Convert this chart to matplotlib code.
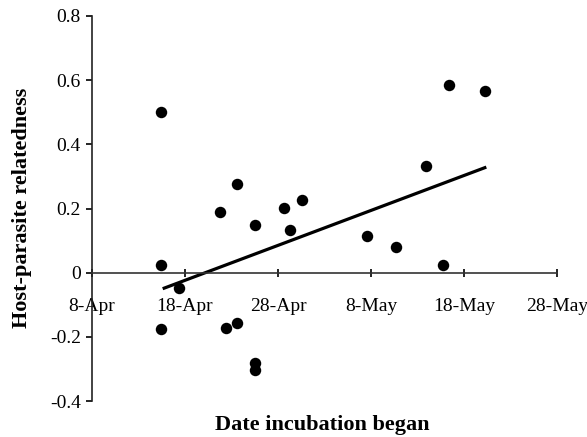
import numpy as np
import matplotlib
matplotlib.use('Agg')
import matplotlib.pyplot as plt

# days after 8-Apr, host-parasite relatedness
days = [7.4, 7.4, 7.4, 9.4, 13.8, 14.4, 15.6, 15.6, 17.5, 17.5, 17.5,
        20.6, 21.3, 22.6, 29.6, 32.7, 35.9, 37.7, 38.4, 42.3]
relatedness = [0.50, 0.025, -0.176, -0.048, 0.188, -0.173, 0.277, -0.157, 0.15, -0.283, -0.302,
               0.203, 0.133, 0.225, 0.114, 0.08, 0.332, 0.025, 0.585, 0.566]

# regression line (start and end values)
trend_days = [7.6, 42.4]
trend_vals = [-0.05, 0.329]

tick_days = [0, 10, 20, 30, 40, 50]
tick_labels = ['8-Apr', '18-Apr', '28-Apr', '8-May', '18-May', '28-May']
y_ticks = [-0.4, -0.2, 0, 0.2, 0.4, 0.6, 0.8]
y_labels = ['-0.4', '-0.2', '0', '0.2', '0.4', '0.6', '0.8']

plt.rcParams['font.family'] = ['Liberation Serif', 'DejaVu Serif']

fig = plt.figure(figsize=(5.87, 4.37), dpi=100)
ax = fig.add_axes([92 / 587, 1 - 401 / 437, (557 - 92) / 587, (401 - 16) / 437])

ax.scatter(days, relatedness, s=68, color='black', zorder=3, linewidths=0)
ax.plot(trend_days, trend_vals, color='black', lw=2.3, solid_capstyle='butt', zorder=2)

ax.set_xlim(0, 50)
ax.set_ylim(-0.4, 0.8)

ax.spines['top'].set_visible(False)
ax.spines['right'].set_visible(False)
ax.spines['bottom'].set_position(('data', 0))
ax.spines['left'].set_linewidth(1.2)
ax.spines['bottom'].set_linewidth(1.2)
ax.spines['left'].set_color('#222222')
ax.spines['bottom'].set_color('#333333')

ax.set_xticks(tick_days)
ax.set_xticklabels(tick_labels)
ax.set_yticks(y_ticks)
ax.set_yticklabels(y_labels)
ax.tick_params(axis='x', direction='inout', length=6, width=1.2, pad=15, labelsize=14)
ax.tick_params(axis='y', direction='out', length=4, width=1.2, pad=4, labelsize=14)

fig.text(322 / 587, 1 - 425 / 437, 'Date incubation began', ha='center', va='center',
         fontsize=16, fontweight='bold')
fig.text(22 / 587, 1 - 208 / 437, 'Host-parasite relatedness', ha='center', va='center',
         rotation=90, fontsize=16, fontweight='bold')

fig.savefig('out.png', dpi=100)
